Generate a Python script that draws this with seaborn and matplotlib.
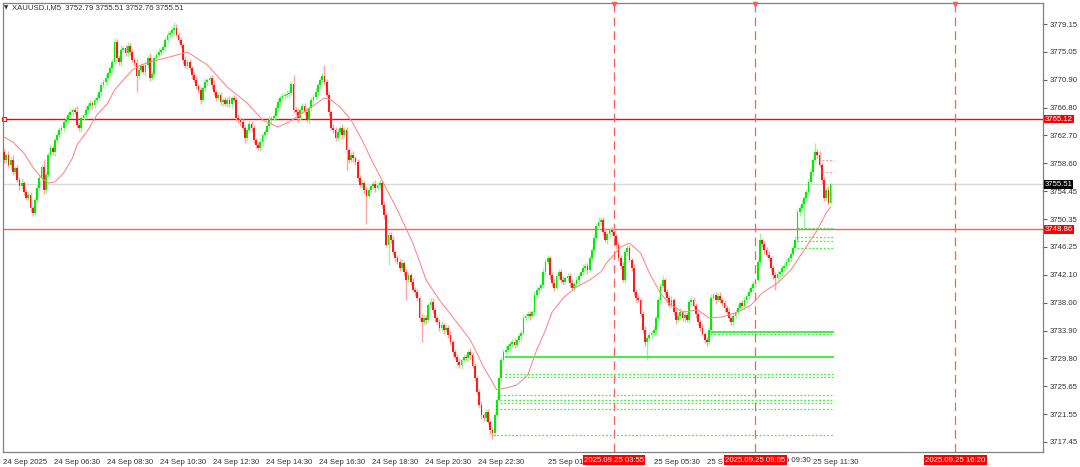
import numpy as np
import pandas as pd
import matplotlib
matplotlib.use("Agg")
import matplotlib.pyplot as plt
import seaborn as sns

sns.set_style("white")
plt.rcParams['font.family'] = ['Liberation Sans', 'DejaVu Sans']

# ==========================================
# DATA  (XAUUSD.i, M5)
# ==========================================
first_open = 3760.25
closes = [
    3759.07, 3759.81, 3758.34, 3759.07, 3757.30, 3757.89, 3756.12, 3755.24, 3755.68, 3754.35,
    3753.47, 3753.91, 3751.99, 3751.25, 3753.17, 3754.94, 3756.42, 3758.04, 3754.65, 3756.86,
    3759.81, 3760.85, 3760.25, 3762.03, 3762.76, 3763.50, 3763.80, 3764.68, 3764.98, 3765.72,
    3766.16, 3766.45, 3766.16, 3764.24, 3763.80, 3765.27, 3765.72, 3766.45, 3767.04, 3767.49,
    3767.19, 3767.93, 3768.23, 3769.11, 3770.14, 3770.59, 3771.18, 3771.92, 3772.65, 3773.54,
    3776.49, 3774.13, 3773.54, 3775.31, 3775.61, 3774.87, 3775.90, 3775.01, 3773.83, 3773.39,
    3771.47, 3772.36, 3772.95, 3772.06, 3773.10, 3774.13, 3771.18, 3771.77, 3774.13, 3774.57,
    3775.01, 3775.31, 3775.75, 3776.79, 3777.52, 3777.82, 3778.26, 3778.56, 3777.52, 3776.79,
    3776.05, 3773.83, 3772.95, 3773.54, 3772.65, 3771.62, 3770.88, 3770.00, 3769.41, 3767.93,
    3769.70, 3770.59, 3770.88, 3771.18, 3770.14, 3769.11, 3768.23, 3768.67, 3767.63, 3767.93,
    3767.34, 3767.93, 3767.34, 3768.23, 3767.93, 3765.27, 3764.98, 3764.68, 3763.80, 3762.32,
    3763.50, 3764.39, 3763.80, 3762.03, 3761.29, 3760.85, 3761.73, 3762.76, 3763.21, 3764.09,
    3764.98, 3765.27, 3765.57, 3766.75, 3767.63, 3768.23, 3768.52, 3768.67, 3768.82, 3768.96,
    3770.29, 3766.45, 3766.16, 3765.27, 3766.45, 3767.04, 3766.16, 3764.98, 3766.75, 3767.93,
    3768.37, 3769.11, 3770.14, 3770.88, 3771.47, 3770.59, 3768.67, 3766.16, 3763.80, 3763.50,
    3762.32, 3763.21, 3763.80, 3762.76, 3763.50, 3760.55, 3759.07, 3759.81, 3759.37, 3758.78,
    3756.42, 3755.38, 3755.68, 3754.65, 3753.76, 3754.65, 3755.24, 3755.53, 3754.94, 3755.38,
    3755.68, 3752.43, 3750.96, 3746.53, 3748.00, 3747.27, 3745.49, 3744.61, 3744.02, 3743.13,
    3743.87, 3742.54, 3741.36, 3742.10, 3741.07, 3739.89, 3739.59, 3738.71, 3735.75, 3735.16,
    3735.75, 3735.46, 3737.67, 3738.11, 3736.93, 3735.75, 3735.16, 3734.28, 3734.72, 3733.98,
    3734.28, 3733.24, 3732.21, 3730.73, 3730.00, 3729.26, 3728.82, 3729.55, 3730.00, 3729.85,
    3730.73, 3730.29, 3728.67, 3726.90, 3724.83, 3722.91, 3721.44, 3720.99, 3721.88, 3720.40,
    3719.22, 3718.78, 3721.44, 3723.65, 3726.90, 3729.55, 3730.73, 3731.03, 3731.62, 3731.92,
    3732.21, 3731.77, 3732.51, 3733.10, 3733.54, 3735.75, 3736.05, 3736.34, 3736.05, 3736.64,
    3739.15, 3739.89, 3740.18, 3740.62, 3742.54, 3744.02, 3744.61, 3742.10, 3740.92, 3740.18,
    3741.95, 3742.54, 3741.36, 3741.07, 3741.66, 3741.95, 3740.92, 3740.18, 3740.77, 3741.36,
    3741.95, 3742.54, 3743.13, 3743.43, 3742.84, 3744.61, 3745.79, 3747.56, 3749.33, 3749.92,
    3750.22, 3748.45, 3747.27, 3748.15, 3748.74, 3748.45, 3747.86, 3746.53, 3744.61, 3743.43,
    3741.36, 3745.49, 3746.09, 3744.31, 3743.13, 3739.59, 3738.71, 3738.41, 3736.34, 3733.98,
    3732.21, 3732.80, 3733.24, 3733.54, 3733.98, 3735.75, 3738.41, 3740.48, 3741.36, 3739.59,
    3738.71, 3737.67, 3738.41, 3736.64, 3735.46, 3736.05, 3736.64, 3735.75, 3736.20, 3735.46,
    3738.11, 3738.41, 3737.52, 3736.34, 3735.16, 3734.28, 3733.39, 3732.51, 3732.21, 3733.98,
    3738.71, 3739.15, 3738.41, 3739.00, 3738.41, 3737.97, 3737.23, 3736.64, 3735.75, 3735.16,
    3736.05, 3736.64, 3737.23, 3737.97, 3737.52, 3738.41, 3739.00, 3739.59, 3740.18, 3740.77,
    3741.36, 3744.02, 3747.27, 3746.68, 3745.79, 3745.05, 3744.61, 3743.13, 3742.10, 3741.66,
    3742.25, 3742.54, 3743.13, 3743.43, 3744.02, 3744.61, 3745.20, 3746.09, 3747.27, 3751.40,
    3751.99, 3752.58, 3753.47, 3754.35, 3755.83, 3757.30, 3759.07, 3760.25, 3759.81, 3758.34,
    3756.12, 3753.47, 3754.65, 3752.79, 3755.51,
]
upper_wick = [
    0.5, 0.3, 0.6, 0.4, 0.8, 0.3, 0.5, 0.4, 0.7, 0.3, 0.5, 0.6, 0.4, 0.3, 0.5, 0.4, 0.6, 0.3, 1.0, 0.5, 0.4, 0.6, 0.5, 0.3, 0.4,
    0.5, 0.4, 0.3, 0.6, 0.4, 0.5, 0.3, 0.4, 0.9, 0.5, 0.4, 0.3, 0.6, 0.4, 0.5, 0.3, 0.4, 0.6, 0.3, 0.5, 0.4, 0.6, 0.3, 0.4, 0.5,
    0.6, 0.5, 0.4, 0.7, 0.3, 0.5, 0.6, 0.4, 0.5, 0.3, 0.6, 0.4, 0.5, 0.3, 0.6, 0.4, 0.8, 0.5, 0.3, 0.4, 0.6, 0.3, 0.5, 0.4, 0.6,
    0.5, 0.4, 0.9, 0.6, 0.4, 0.5, 0.3, 0.6, 0.4, 0.5, 0.3, 0.4, 0.6, 0.3, 0.5, 0.4, 0.6, 0.3, 0.5, 0.4, 0.7, 0.3, 0.5, 0.4, 0.3,
    0.5, 0.4, 0.6, 0.3, 0.5, 0.4, 0.6, 0.3, 0.5, 0.4, 0.3, 0.6, 0.4, 0.5, 0.3, 0.4, 0.6, 0.3, 0.5, 0.4, 0.6, 0.3, 0.5, 0.4, 0.6,
    0.4, 0.5, 0.3, 0.6, 0.4, 0.5, 1.3, 0.4, 0.6, 0.3, 0.5, 0.4, 0.6, 0.3, 0.5, 0.4, 0.6, 0.3, 0.5, 0.4, 1.6, 0.5, 0.4, 0.3, 0.6,
    0.4, 0.5, 0.3, 0.6, 0.4, 0.5, 0.3, 0.4, 0.6, 0.3, 0.5, 0.4, 0.6, 0.3, 0.5, 0.4, 0.3, 0.5, 0.6, 0.4, 0.5, 0.3, 0.6, 0.4, 0.5,
    0.4, 0.6, 0.3, 0.5, 0.4, 0.6, 0.3, 0.5, 0.4, 0.3, 0.6, 0.4, 0.5, 0.3, 0.6, 0.4, 0.5, 0.3, 0.6, 0.4, 0.5, 0.3, 0.4, 0.6, 0.3,
    0.5, 0.4, 0.6, 0.3, 0.5, 0.4, 0.6, 0.3, 0.5, 0.4, 0.3, 0.6, 0.4, 0.5, 0.3, 0.4, 0.6, 0.3, 0.5, 0.4, 0.3, 0.5, 0.4, 0.6, 0.3,
    0.5, 0.4, 0.6, 0.3, 0.5, 0.4, 0.6, 0.3, 0.5, 0.4, 0.6, 0.3, 0.5, 0.4, 0.3, 0.6, 0.4, 0.5, 0.3, 0.6, 0.4, 0.5, 0.3, 0.4, 0.6,
    0.3, 0.5, 0.4, 0.6, 0.3, 0.5, 0.4, 0.6, 0.3, 0.5, 0.4, 0.3, 0.6, 0.4, 0.5, 0.3, 0.4, 0.6, 0.3, 0.8, 0.5, 0.4, 0.6, 0.3, 0.5,
    0.4, 0.6, 0.3, 0.5, 0.4, 0.6, 0.3, 0.5, 0.4, 0.3, 0.6, 0.4, 0.5, 0.3, 0.4, 0.6, 0.3, 0.5, 0.4, 0.6, 0.3, 0.5, 0.4, 0.6, 0.3,
    0.5, 0.4, 0.6, 0.3, 0.5, 0.4, 0.6, 0.3, 0.5, 0.4, 0.3, 0.6, 0.4, 0.5, 0.3, 0.4, 0.6, 0.3, 0.5, 0.4, 0.6, 0.3, 0.5, 0.4, 0.6,
    0.3, 0.5, 0.4, 0.6, 0.3, 0.5, 0.4, 0.6, 0.3, 0.5, 0.4, 0.3, 0.6, 0.4, 0.5, 0.3, 0.4, 1.0, 0.3, 0.5, 0.4, 0.6, 0.3, 0.5, 0.4,
    0.6, 0.3, 0.5, 0.4, 0.6, 0.3, 0.5, 0.4, 0.6, 0.5, 0.4, 0.6, 0.3, 0.5, 0.4, 0.6, 0.5, 1.3, 0.4, 0.6, 0.3, 0.5, 0.4, 0.6, 0.0,
]
lower_wick = [
    0.4, 0.5, 0.3, 0.6, 0.4, 0.5, 0.3, 0.6, 0.4, 0.5, 0.3, 0.4, 0.6, 0.5, 0.3, 0.4, 0.5, 0.3, 0.6, 0.4, 0.5, 0.3, 0.4, 0.6, 0.3,
    0.5, 0.4, 0.6, 0.3, 0.5, 0.4, 0.6, 0.3, 0.5, 0.4, 0.6, 0.3, 0.5, 0.4, 0.3, 0.6, 0.4, 0.5, 0.3, 0.6, 0.4, 0.5, 0.3, 0.4, 0.6,
    0.3, 0.5, 0.4, 0.6, 0.3, 0.5, 0.4, 0.6, 0.3, 0.5, 2.4, 0.4, 0.5, 0.3, 0.6, 0.4, 0.5, 0.3, 0.4, 0.6, 0.3, 0.5, 0.4, 0.6, 0.3,
    0.5, 0.4, 0.6, 0.3, 0.5, 0.4, 0.6, 0.3, 0.5, 0.4, 0.6, 0.3, 0.5, 0.4, 0.6, 0.3, 0.5, 0.4, 0.3, 0.6, 0.4, 0.5, 0.3, 0.4, 0.6,
    0.3, 0.5, 0.4, 0.6, 0.3, 0.5, 0.4, 0.6, 0.3, 0.8, 0.4, 0.3, 0.6, 0.4, 0.5, 0.3, 0.4, 0.6, 0.3, 0.5, 0.4, 0.6, 0.3, 0.5, 0.4,
    0.6, 0.3, 0.5, 0.4, 0.6, 0.3, 0.5, 0.4, 0.6, 0.3, 0.5, 0.4, 0.3, 0.6, 0.4, 0.5, 0.3, 0.4, 0.6, 0.3, 0.5, 0.4, 0.6, 0.3, 0.5,
    0.4, 0.5, 0.3, 0.6, 0.4, 3.0, 0.5, 0.3, 0.6, 0.4, 0.5, 0.3, 0.4, 0.6, 4.2, 0.3, 0.5, 0.4, 0.6, 0.3, 0.5, 0.4, 0.6, 0.3, 3.0,
    0.5, 0.4, 0.6, 0.3, 0.5, 0.4, 0.6, 3.0, 0.4, 0.5, 0.3, 0.6, 0.4, 0.5, 3.0, 0.4, 0.6, 0.3, 0.5, 0.4, 0.6, 0.3, 0.5, 0.4, 0.6,
    0.3, 0.5, 0.4, 0.6, 0.3, 0.5, 0.4, 0.6, 0.3, 0.5, 0.4, 0.6, 0.3, 0.5, 0.4, 0.3, 0.6, 0.4, 0.5, 0.3, 0.6, 0.9, 0.4, 0.5, 0.3,
    0.6, 0.4, 0.5, 0.3, 0.6, 0.4, 0.5, 0.3, 0.4, 0.6, 0.3, 0.5, 0.4, 0.6, 0.3, 0.5, 0.4, 0.6, 0.3, 0.5, 0.4, 0.3, 0.6, 0.4, 0.5,
    0.3, 0.6, 0.4, 0.5, 0.3, 0.4, 0.6, 0.3, 0.5, 0.4, 0.6, 0.3, 0.5, 0.4, 0.6, 0.3, 0.5, 0.4, 0.3, 0.6, 0.4, 0.5, 0.3, 0.6, 0.4,
    0.5, 0.3, 0.6, 0.4, 0.5, 0.3, 0.4, 0.6, 0.3, 0.5, 0.4, 0.6, 0.3, 0.5, 0.4, 0.6, 2.7, 0.4, 0.5, 0.3, 0.6, 0.4, 0.5, 0.3, 0.4,
    0.6, 0.3, 0.5, 0.4, 0.6, 0.3, 0.5, 0.4, 0.6, 0.3, 0.5, 0.4, 0.3, 0.6, 0.4, 0.5, 0.3, 0.4, 0.6, 0.3, 0.5, 0.4, 0.6, 0.3, 0.5,
    0.4, 0.6, 0.3, 0.5, 0.4, 0.6, 0.3, 0.5, 0.4, 0.3, 0.6, 0.4, 0.5, 0.3, 0.4, 0.6, 0.3, 0.5, 0.4, 0.6, 0.3, 0.5, 0.4, 0.6, 1.8,
    0.5, 0.4, 0.6, 0.3, 0.5, 0.4, 0.6, 0.3, 0.5, 0.4, 0.6, 0.3, 3.5, 0.4, 0.5, 0.3, 0.6, 0.4, 0.5, 0.3, 0.6, 0.4, 0.5, 0.3, 0.03,
]

# moving average as drawn on the chart (bar index, price)
ma_bar = [0, 4, 9, 13, 17, 20, 23, 27, 31, 33, 38, 42, 47, 50, 54, 58, 62, 66, 71, 75,
          83, 92, 101, 110, 117, 124, 129, 137, 145, 148, 152, 157, 162, 167, 171, 178, 185, 191, 197, 203,
          211, 217, 223, 229, 232, 237, 241, 245, 248, 253, 259, 265, 270, 273, 279, 283, 288, 292, 297, 301,
          307, 314, 319, 325, 332, 338, 343, 350, 356, 362, 368, 372, 374]
ma_price = [3762.47, 3761.73, 3760.11, 3758.04, 3756.42, 3755.68, 3755.83, 3757.16, 3759.37, 3761.29,
            3763.50, 3765.72, 3767.49, 3769.41, 3770.88, 3772.36, 3773.10, 3773.54, 3773.98, 3774.28,
            3775.01, 3773.10, 3769.85, 3767.49, 3764.98, 3763.94, 3764.68, 3766.45, 3768.23, 3767.93,
            3766.90, 3764.98, 3762.03, 3758.63, 3756.12, 3751.69, 3746.82, 3741.36, 3738.41, 3735.90,
            3732.51, 3728.52, 3725.13, 3725.57, 3725.86, 3727.34, 3731.03, 3733.98, 3736.64, 3738.71,
            3740.33, 3741.36, 3742.54, 3744.02, 3746.23, 3746.82, 3745.35, 3742.40, 3739.44, 3737.82,
            3736.64, 3736.93, 3735.75, 3735.90, 3736.64, 3737.67, 3739.44, 3740.92, 3742.84, 3745.79,
            3748.74, 3751.25, 3752.14]

# horizontal levels
red_level = 3765.12
pink_level = 3748.86
bid_price = 3755.51
green_solid = [3730.03, 3733.69]
green_solid_start = [226.7, 319.5]
green_dotted = [3733.39, 3727.49, 3727.05, 3724.39, 3723.65, 3723.21, 3722.32, 3718.48,
                3749.04, 3747.71, 3747.12, 3746.09]
green_dotted_start = [319.5, 226.7, 226.7, 224.4, 224.4, 224.4, 224.4, 221.3,
                      358.8, 358.8, 358.8, 358.8]
pink_dotted = [3759.07, 3757.30]
pink_dotted_start = [370.0, 370.0]
levels_end = 375.5

# vertical time markers
vline_bars = [276, 340, 430.3]
vline_labels = ["2025.09.25 03:55", "2025.09.25 09:05", "2025.09.25 16:20"]

# axes ticks (labels partly hidden behind the red time boxes, as on the terminal)
yticks = [3779.15, 3775.05, 3770.90, 3766.80, 3762.70, 3758.60, 3754.45, 3750.35,
          3746.25, 3742.10, 3738.00, 3733.90, 3729.80, 3725.65, 3721.55, 3717.45]
xtick_bars = [-0.4, 22.6, 46.6, 70.6, 94.6, 118.6, 142.5, 166.5, 190.5, 214.5,
              246, 270, 294, 318, 342, 366]
xtick_labels = ["24 Sep 2025", "24 Sep 06:30", "24 Sep 08:30", "24 Sep 10:30", "24 Sep 12:30",
                "24 Sep 14:30", "24 Sep 16:30", "24 Sep 18:30", "24 Sep 20:30", "24 Sep 22:30",
                "25 Sep 01:", "", "25 Sep 05:30", "25 S", "",
                "25 Sep 11:30"]
tail_label_bar = 353.3
tail_label = "p 09:30"

df = pd.DataFrame({'close': closes})
df['open'] = [first_open] + closes[:-1]
df['high'] = df[['open', 'close']].max(axis=1) + np.array(upper_wick)
df['low'] = df[['open', 'close']].min(axis=1) - np.array(lower_wick)
df['bar'] = np.arange(len(df))
up = df['close'] >= df['open']

# ==========================================
# FIGURE
# ==========================================
W, H = 1080, 467
fig = plt.figure(figsize=(W / 100, H / 100), dpi=100)
fig.patch.set_facecolor('white')
ax = fig.add_axes([3 / W, (H - 452) / H, 1040 / W, 449 / H])
ax.set_facecolor('white')
ax.set_xlim(-0.45, 470.1)
ax.set_ylim(3715.97, 3782.25)

BULL, BEAR = '#00ee00', '#ff1a1a'
body_col = np.where(up, BULL, BEAR)
wick_col = np.where(up, '#9cf59c', '#ffa3a3')

ax.vlines(df['bar'], df['low'], df['high'], colors=wick_col, lw=1.0, zorder=2)
body_h = np.maximum((df['close'] - df['open']).abs(), 0.15)
ax.bar(df['bar'], body_h, bottom=df[['open', 'close']].min(axis=1), width=0.8,
       color=body_col, linewidth=0, zorder=3)

sns.lineplot(x=ma_bar, y=ma_price, ax=ax, color='#ff8585', lw=0.75, zorder=4)

ax.axhline(red_level, color='#ff0000', lw=1.0, zorder=1)
ax.axhline(pink_level, color='#ff5c5c', lw=1.0, zorder=1)
ax.axhline(bid_price, color='#d8d8d8', lw=1.0, zorder=1)
ax.plot([0], [red_level], marker='s', ms=3, mfc='white', mec='#ff0000', mew=0.7, clip_on=False)

for lv, st in zip(green_solid, green_solid_start):
    ax.hlines(lv, st, levels_end, color='#33ee33', lw=1.3, zorder=5)
for lv, st in zip(green_dotted, green_dotted_start):
    ax.hlines(lv, st, levels_end, color='#44ee44', lw=0.9, linestyles=(0, (1.5, 1.5)), zorder=5)
for lv, st in zip(pink_dotted, pink_dotted_start):
    ax.hlines(lv, st, levels_end, color='#ff9a9a', lw=0.9, linestyles=(0, (1.5, 1.5)), zorder=5)

for b in vline_bars:
    ax.axvline(b, color='#ff5c5c', lw=0.9, ls=(0, (7, 4)), zorder=1)
    ax.plot([b], [3782.1], marker='v', ms=3, color='#ff5c5c', clip_on=False, zorder=6)

# axes styling
for s in ax.spines.values():
    s.set_color('#808080')
    s.set_linewidth(0.9)
ax.yaxis.tick_right()
ax.set_yticks(yticks)
ax.set_yticklabels([f"{v:.2f}" for v in yticks])
ax.set_xticks(xtick_bars)
ax.set_xticklabels(xtick_labels)
for lbl in ax.get_xticklabels():
    lbl.set_ha('left')
ax.tick_params(axis='both', direction='out', length=3, width=0.8, color='#606060',
               labelsize=5.6, labelcolor='#333333', pad=1.5)
ax.tick_params(axis='x', pad=2)
ax.set_xlabel('')
ax.set_ylabel('')

# price labels on the right scale
ytr = ax.get_yaxis_transform()
for val, bg in [(red_level, '#ff0000'), (pink_level, '#ff0000'), (bid_price, '#000000')]:
    ax.text(1.0016, val, f"{val:.2f}", transform=ytr, ha='left', va='center', fontsize=5.6,
            color='white', clip_on=False, zorder=10,
            bbox=dict(boxstyle='square,pad=0.12', fc=bg, ec='none'))

# time labels on the bottom scale
xtr = ax.get_xaxis_transform()
for b, txt in zip(vline_bars, vline_labels):
    ax.text(b, -0.0185, txt, transform=xtr, ha='center', va='center', fontsize=5.6,
            color='white', clip_on=False, zorder=10,
            bbox=dict(boxstyle='square,pad=0.18', fc='#ff0000', ec='none'))
ax.text(tail_label_bar, -0.0185, tail_label, transform=xtr, ha='left', va='center',
        fontsize=5.6, color='#333333', clip_on=False)

# header
fig.text(4 / W, 1 - 8 / H, "\u25BC", fontsize=4, color='#333333', va='center',
         family='DejaVu Sans')
fig.text(12 / W, 1 - 8 / H, "XAUUSD.i,M5  3752.79 3755.51 3752.76 3755.51",
         fontsize=5.6, color='#333333', va='center')

fig.savefig('out.png', dpi=100)
